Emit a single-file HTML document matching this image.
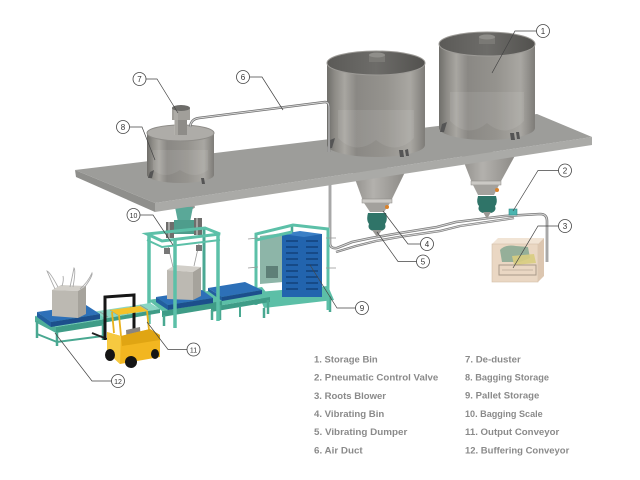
<!DOCTYPE html>
<html><head><meta charset="utf-8"><style>
html,body{margin:0;padding:0;background:#fff;}
svg{display:block;}
.t{font-family:"Liberation Sans",sans-serif;font-weight:bold;font-size:9.5px;fill:#8a8a8a;}
.n{font-family:"Liberation Sans",sans-serif;font-size:8px;fill:#333;text-anchor:middle;}
.c{fill:#fff;stroke:#444;stroke-width:0.8;}
.l{fill:none;stroke:#444;stroke-width:0.7;}
</style></head><body>
<svg width="640" height="480" viewBox="0 0 640 480" xmlns="http://www.w3.org/2000/svg">
<defs>
<linearGradient id="silo" x1="0" x2="1" y1="0" y2="0">
 <stop offset="0" stop-color="#6f6e6a"/>
 <stop offset="0.08" stop-color="#8d8b86"/>
 <stop offset="0.18" stop-color="#a8a6a1"/>
 <stop offset="0.3" stop-color="#8a8884"/>
 <stop offset="0.6" stop-color="#95938e"/>
 <stop offset="0.85" stop-color="#a9a7a2"/>
 <stop offset="1" stop-color="#7e7c78"/>
</linearGradient>
<linearGradient id="lid" x1="0" x2="1" y1="0" y2="0">
 <stop offset="0" stop-color="#5b5a57"/>
 <stop offset="0.5" stop-color="#6d6c69"/>
 <stop offset="1" stop-color="#52514e"/>
</linearGradient>
<linearGradient id="cone" x1="0" x2="1" y1="0" y2="0">
 <stop offset="0" stop-color="#8f8d89"/>
 <stop offset="0.4" stop-color="#b3b1ad"/>
 <stop offset="1" stop-color="#8a8884"/>
</linearGradient>
</defs>

<!-- lower pipes -->
<path d="M330,180 L330,243 Q330,249 337,248 L352,242 L371,238 L400,233 L437,227 L456,222 L505,216 L540,214 Q547,214 547,221 L547,262" fill="none" stroke="#7a7a7a" stroke-width="2.6"/>
<path d="M330,180 L330,243 Q330,249 337,248 L352,242 L371,238 L400,233 L437,227 L456,222 L505,216 L540,214 Q547,214 547,221 L547,262" fill="none" stroke="#d6d6d6" stroke-width="1"/>
<path d="M336,252 L356,246 L376,241 L405,236 L440,231 L460,226 L508,219 L514,218" fill="none" stroke="#7a7a7a" stroke-width="2.4"/>
<path d="M336,252 L356,246 L376,241 L405,236 L440,231 L460,226 L508,219 L514,218" fill="none" stroke="#d6d6d6" stroke-width="0.9"/>

<!-- blower -->
<polygon points="492,244 498,238 544,238 538,244" fill="#f1e4d5"/>
<rect x="492" y="244" width="46" height="38" fill="#ead7c3" stroke="#d2bea9" stroke-width="0.6"/>
<polygon points="538,244 544,238 544,276 538,282" fill="#dcc6b0"/>
<path d="M500,250 Q505,244 516,246 L528,247 L530,258 L520,262 L502,262 Z" fill="#86a892" opacity="0.85"/>
<path d="M512,256 L534,254 L536,263 L514,265 Z" fill="#d8cd80" opacity="0.9"/>
<rect x="499" y="265" width="37" height="10" fill="none" stroke="#a89888" stroke-width="1"/>
<line x1="502" y1="270" x2="533" y2="270" stroke="#b8a898" stroke-width="0.8"/>
<!-- valve 2 -->
<rect x="509" y="209" width="8" height="6" fill="#4bb5b0" stroke="#2d8b86" stroke-width="0.6"/>

<!-- cone A -->
<path d="M351,168 L407,168 L391,201 L363,201 Z" fill="url(#cone)"/>
<rect x="362" y="199" width="30" height="4" fill="#cbc9c5" stroke="#8a8884" stroke-width="0.5"/>
<path d="M364,203 L390,203 L384,212 L370,212 Z" fill="#a3a19d"/>
<path d="M368,213 L386,213 Q388,220 385,224 Q387,229 381,231 L373,231 Q367,229 369,224 Q366,220 368,213 Z" fill="#2f7468"/>
<path d="M372,230 L382,230 L377,237 Z" fill="#9a9894"/>
<circle cx="387" cy="207" r="2" fill="#d9822b"/>
<!-- cone B -->
<path d="M460,152 L517,152 L500,183 L472,183 Z" fill="url(#cone)"/>
<rect x="471" y="181" width="30" height="4" fill="#cbc9c5" stroke="#8a8884" stroke-width="0.5"/>
<path d="M473,185 L499,185 L494,195 L478,195 Z" fill="#a3a19d"/>
<path d="M478,196 L496,196 Q498,203 495,206 Q497,211 491,213 L483,213 Q477,211 479,206 Q476,203 478,196 Z" fill="#2f7468"/>
<path d="M483,212 L491,212 L487,219 Z" fill="#9a9894"/>
<circle cx="497" cy="190" r="2" fill="#d9822b"/>

<!-- scale chute (below platform) -->
<ellipse cx="184" cy="207" rx="11" ry="3" fill="#9a9a96"/>
<polygon points="175,207 193,207 190,222 178,222" fill="#5aa898"/>
<rect x="174" y="220" width="21" height="14" fill="#4e9d8c"/>
<rect x="166" y="222" width="8" height="16" fill="#6e6e6c"/>
<rect x="168" y="222" width="2" height="16" fill="#a5a5a3"/>
<rect x="194" y="218" width="8" height="17" fill="#6e6e6c"/>
<rect x="196" y="218" width="2" height="17" fill="#a5a5a3"/>

<!-- platform -->
<polygon points="75,170 155,203 155,212 76,177" fill="#8f8f8c"/>
<polygon points="155,203 592,137 592,145 155,212" fill="#aaaaa7"/>
<polygon points="75,170 537,114 592,137 155,203" fill="#9d9d9a"/>

<!-- silo A -->
<path d="M327,63 L327,145 A49,12 0 0 0 425,145 L425,63 Z" fill="url(#silo)"/>
<path d="M338,110 L338,138 Q356,156 376,140 Q396,156 414,138 L414,110 Z" fill="#ffffff" opacity="0.08"/>
<ellipse cx="376" cy="63" rx="49" ry="12" fill="url(#lid)" stroke="#9d9b97" stroke-width="1"/>
<rect x="369" y="55" width="16" height="7" fill="#7a7975"/>
<ellipse cx="377" cy="55" rx="8" ry="2.5" fill="#8f8e8a"/>
<polygon points="330,140 335,138 332,148 328,148" fill="#555"/>
<polygon points="399,150 403,150 404,157 400,157" fill="#555"/>
<polygon points="405,150 408,149 409,156 406,156" fill="#555"/>
<!-- silo B -->
<path d="M439,44 L439,128 A48,12 0 0 0 535,128 L535,44 Z" fill="url(#silo)"/>
<path d="M450,92 L450,121 Q468,139 487,123 Q506,139 524,121 L524,92 Z" fill="#ffffff" opacity="0.08"/>
<ellipse cx="487" cy="44" rx="48" ry="12" fill="url(#lid)" stroke="#9d9b97" stroke-width="1"/>
<rect x="479" y="37" width="16" height="7" fill="#7a7975"/>
<ellipse cx="487" cy="37" rx="8" ry="2.5" fill="#8f8e8a"/>
<polygon points="442,124 447,122 444,132 440,132" fill="#555"/>
<polygon points="510,133 514,133 515,140 511,140" fill="#555"/>
<polygon points="516,132 519,132 520,139 517,139" fill="#555"/>

<!-- bin 8 -->
<path d="M147,133 L147,175 A33.5,8 0 0 0 214,175 L214,133 Z" fill="url(#silo)"/>
<path d="M153,150 L153,170 Q165,180 180,170 Q195,180 208,170 L208,150 Z" fill="#ffffff" opacity="0.08"/>
<ellipse cx="180.5" cy="133" rx="33.5" ry="8" fill="#aeaca8" stroke="#8e8c88" stroke-width="1"/>
<polygon points="150,172 154,170 152,178 148,178" fill="#555"/>
<polygon points="201,178 204,178 205,184 202,184" fill="#555"/>
<!-- de-duster -->
<rect x="175" y="118" width="12" height="17" fill="#8e8c88"/>
<rect x="172" y="108" width="18" height="12" fill="#a19f9a"/>
<rect x="174" y="108" width="4" height="27" fill="#b8b6b1" opacity="0.6"/>
<ellipse cx="181" cy="108" rx="9" ry="3" fill="#6d6c69"/>
<!-- upper air duct 6 -->
<path d="M190,127 Q191,119 199,118 L325,102 Q329,102 329,107 L329,152" fill="none" stroke="#707070" stroke-width="2.4"/>
<path d="M190,127 Q191,119 199,118 L325,102 Q329,102 329,107 L329,152" fill="none" stroke="#d8d8d8" stroke-width="0.9"/>

<!-- ===== green machinery ===== -->
<!-- pallet storage 9 -->
<polygon points="258,292 328,286 334,300 264,308" fill="#5cbfa7"/>
<line x1="264" y1="308" x2="264" y2="318" stroke="#49a891" stroke-width="2.5"/>
<line x1="330" y1="296" x2="330" y2="312" stroke="#49a891" stroke-width="2.5"/>
<line x1="292" y1="225" x2="292" y2="292" stroke="#4aa893" stroke-width="2.5"/>
<polygon points="260,236 283,233 283,282 260,284" fill="#8db5a8"/>
<rect x="266" y="266" width="12" height="12" fill="#5e7f77"/>
<rect x="282" y="234" width="40" height="63" fill="#2264ae"/>
<polygon points="282,234 300,231 322,234 304,237" fill="#3a7fc6"/>
<g stroke="#123f77" stroke-width="1.4">
<line x1="286" y1="241" x2="298" y2="241"/><line x1="306" y1="241" x2="318" y2="241"/>
<line x1="286" y1="247" x2="298" y2="247"/><line x1="306" y1="247" x2="318" y2="247"/>
<line x1="286" y1="253" x2="298" y2="253"/><line x1="306" y1="253" x2="318" y2="253"/>
<line x1="286" y1="259" x2="298" y2="259"/><line x1="306" y1="259" x2="318" y2="259"/>
<line x1="286" y1="265" x2="298" y2="265"/><line x1="306" y1="265" x2="318" y2="265"/>
<line x1="286" y1="271" x2="298" y2="271"/><line x1="306" y1="271" x2="318" y2="271"/>
<line x1="286" y1="277" x2="298" y2="277"/><line x1="306" y1="277" x2="318" y2="277"/>
<line x1="286" y1="283" x2="298" y2="283"/><line x1="306" y1="283" x2="318" y2="283"/>
<line x1="286" y1="289" x2="298" y2="289"/><line x1="306" y1="289" x2="318" y2="289"/>
</g>
<g stroke="#5cc0a8" stroke-width="3" fill="none">
<polyline points="256,305 256,234 293,225 328,229 328,310"/>
<line x1="256" y1="240" x2="292" y2="232"/>
</g>
<g stroke="#999" stroke-width="0.8">
<line x1="248" y1="239" x2="258" y2="238"/><line x1="248" y1="268" x2="258" y2="267"/>
<line x1="326" y1="268" x2="336" y2="268"/><line x1="326" y1="238" x2="336" y2="238"/>
</g>

<!-- right conveyor with pallet -->
<polygon points="203,296 262,287 270,297 211,307" fill="#5cbfa7"/>
<polygon points="211,307 270,297 270,302 211,312" fill="#3f9c87"/>
<line x1="212" y1="310" x2="212" y2="320" stroke="#49a891" stroke-width="2.5"/>
<line x1="268" y1="300" x2="268" y2="314" stroke="#49a891" stroke-width="2.5"/>
<line x1="240" y1="306" x2="240" y2="317" stroke="#49a891" stroke-width="2"/>
<polygon points="208,288 245,282 262,290 222,297" fill="#2d70b8"/>
<polygon points="222,297 262,290 262,294 222,301" fill="#1c4f8c"/>
<polygon points="208,288 222,297 222,301 208,292" fill="#225e9f"/>

<!-- scale back posts & conveyor under scale -->
<line x1="204" y1="228" x2="204" y2="300" stroke="#4aa893" stroke-width="3"/>
<polygon points="148,300 208,291 222,301 162,311" fill="#5cbfa7"/>
<polygon points="162,311 222,301 222,307 162,317" fill="#3f9c87"/>
<line x1="164" y1="315" x2="164" y2="326" stroke="#49a891" stroke-width="2.5"/>
<line x1="220" y1="305" x2="220" y2="320" stroke="#49a891" stroke-width="2.5"/>
<!-- pallet under scale -->
<polygon points="156,297 202,290 213,298 168,305" fill="#2d70b8"/>
<polygon points="168,305 213,298 213,303 168,310" fill="#1c4f8c"/>
<polygon points="156,297 168,305 168,310 156,302" fill="#225e9f"/>
<!-- bag under scale -->
<polygon points="167,270 175,265 201,267 193,272" fill="#d2cfc9"/>
<polygon points="167,270 193,272 193,300 167,299" fill="#bcb9b2"/>
<polygon points="193,272 201,267 201,296 193,300" fill="#a6a39c"/>
<line x1="168" y1="246" x2="173" y2="267" stroke="#999" stroke-width="0.8"/>
<line x1="199" y1="244" x2="194" y2="266" stroke="#999" stroke-width="0.8"/>
<!-- scale frame -->
<g stroke="#5cc0a8" fill="none">
<polygon points="147,234 205,228 220,234 162,241" stroke-width="3"/>
<polyline points="147,240 162,247 220,240" stroke-width="2"/>
<line x1="149" y1="234" x2="149" y2="324" stroke-width="3.5"/>
<line x1="175" y1="240" x2="175" y2="328" stroke-width="3.5"/>
<line x1="218" y1="233" x2="218" y2="321" stroke-width="3.5"/>
</g>
<rect x="164" y="248" width="6" height="6" fill="#777"/>
<rect x="196" y="245" width="6" height="6" fill="#777"/>

<!-- middle roller conveyor 11 -->
<polygon points="92,312 150,303 160,309 102,319" fill="#8ad6c4"/>
<polygon points="102,319 160,309 160,313 102,323" fill="#3f9c87"/>
<g stroke="#8c9a96" stroke-width="0.8">
<line x1="100" y1="312" x2="108" y2="317"/><line x1="110" y1="310" x2="118" y2="315"/>
<line x1="120" y1="309" x2="128" y2="314"/><line x1="130" y1="307" x2="138" y2="312"/>
<line x1="140" y1="305" x2="148" y2="310"/>
</g>

<!-- left buffering conveyor 12 -->
<polygon points="35,316 90,308 106,319 56,327" fill="#6ccbb5"/>
<polygon points="56,327 106,319 106,325 56,333" fill="#3f9c87"/>
<polygon points="35,316 56,327 56,333 35,322" fill="#4fae98"/>
<g stroke="#49a891" stroke-width="2.5">
<line x1="37" y1="321" x2="37" y2="338"/><line x1="57" y1="332" x2="57" y2="346"/>
<line x1="103" y1="324" x2="103" y2="340"/>
</g>
<polyline points="37,334 57,342 103,336" fill="none" stroke="#49a891" stroke-width="2"/>
<!-- left pallet -->
<polygon points="37,312 86,305 100,314 51,322" fill="#2d70b8"/>
<polygon points="51,322 100,314 100,319 51,327" fill="#1c4f8c"/>
<polygon points="37,312 51,322 51,327 37,317" fill="#225e9f"/>
<!-- left bag -->
<polygon points="52,290 61,285 86,286 78,291" fill="#d2cfc9"/>
<polygon points="52,290 78,291 78,318 52,316" fill="#bcb9b2"/>
<polygon points="78,291 86,286 86,314 78,318" fill="#a6a39c"/>
<g fill="none" stroke="#a9a9a9" stroke-width="0.9">
<path d="M55,289 Q50,278 47,271 Q50,272 58,287"/>
<path d="M70,287 Q72,278 74,268 Q76,270 73,287"/>
<path d="M80,289 Q88,282 92,273 Q93,276 84,288"/>
<path d="M62,286 Q64,280 63,276"/>
</g>

<!-- forklift -->
<line x1="92" y1="333" x2="107" y2="339" stroke="#222" stroke-width="2"/>
<g stroke="#161616" stroke-width="3" fill="none">
<polyline points="105,340 105,297 134,295 134,334"/>
</g>
<polygon points="110,310 140,306 148,311 118,315" fill="#f4c22a"/>
<g stroke="#e9b11c" stroke-width="1.8">
<line x1="112" y1="312" x2="114" y2="333"/><line x1="119" y1="315" x2="121" y2="336"/>
<line x1="147" y1="311" x2="149" y2="330"/>
</g>
<polygon points="126,330 140,327 141,342 127,345" fill="#8a8580"/>
<polygon points="107,332 121,336 150,329 160,335 160,357 120,364 107,352" fill="#f2b620"/>
<polygon points="107,332 121,336 120,364 107,352" fill="#f6c940"/>
<polygon points="121,336 150,329 160,335 160,340 122,346" fill="#e0a513"/>
<ellipse cx="110" cy="355" rx="5" ry="6" fill="#151515"/>
<ellipse cx="131" cy="362" rx="6" ry="6" fill="#151515"/>
<ellipse cx="155" cy="354" rx="4" ry="5" fill="#151515"/>

<!-- callouts -->
<g>
<path class="l" d="M536.5,31 L515,31 L492,73"/><circle class="c" cx="543" cy="31" r="6.5"/><text class="n" x="543" y="34">1</text>
<path class="l" d="M558.5,170.5 L538,170.5 L513,211"/><circle class="c" cx="565" cy="170.5" r="6.5"/><text class="n" x="565" y="173.5">2</text>
<path class="l" d="M558.5,226 L538,226 L513,268"/><circle class="c" cx="565" cy="226" r="6.5"/><text class="n" x="565" y="229">3</text>
<path class="l" d="M420.5,244 L408,244 L383,211"/><circle class="c" cx="427" cy="244" r="6.5"/><text class="n" x="427" y="247">4</text>
<path class="l" d="M416.5,261.5 L398,261.5 L377,232"/><circle class="c" cx="423" cy="261.5" r="6.5"/><text class="n" x="423" y="264.5">5</text>
<path class="l" d="M249.5,77 L262,77 L283,110"/><circle class="c" cx="243" cy="77" r="6.5"/><text class="n" x="243" y="80">6</text>
<path class="l" d="M146,79 L157,79 L178,113"/><circle class="c" cx="139.5" cy="79" r="6.5"/><text class="n" x="139.5" y="82">7</text>
<path class="l" d="M129.5,127 L142,127 L155,160"/><circle class="c" cx="123" cy="127" r="6.5"/><text class="n" x="123" y="130">8</text>
<path class="l" d="M355.5,308 L337,308 L310,265"/><circle class="c" cx="362" cy="308" r="6.5"/><text class="n" x="362" y="311">9</text>
<path class="l" d="M140,215 L153,215 L173,245"/><circle class="c" cx="133.5" cy="215" r="6.5"/><text class="n" x="133.5" y="218" style="font-size:7px">10</text>
<path class="l" d="M187,349.5 L168,349.5 L147,322"/><circle class="c" cx="193.5" cy="349.5" r="6.5"/><text class="n" x="193.5" y="352.5" style="font-size:7px">11</text>
<path class="l" d="M111.5,381 L92,381 L55,333"/><circle class="c" cx="118" cy="381" r="6.5"/><text class="n" x="118" y="384" style="font-size:7px">12</text>
</g>

<!-- legend -->
<text class="t" x="314" y="362.4" textLength="63.7" lengthAdjust="spacingAndGlyphs">1. Storage Bin</text>
<text class="t" x="314" y="380.6" textLength="124.3" lengthAdjust="spacingAndGlyphs">2. Pneumatic Control Valve</text>
<text class="t" x="314" y="398.8" textLength="72" lengthAdjust="spacingAndGlyphs">3. Roots Blower</text>
<text class="t" x="314" y="417" textLength="70.3" lengthAdjust="spacingAndGlyphs">4. Vibrating Bin</text>
<text class="t" x="314" y="435.2" textLength="93.3" lengthAdjust="spacingAndGlyphs">5. Vibrating Dumper</text>
<text class="t" x="314" y="453.4" textLength="48.7" lengthAdjust="spacingAndGlyphs">6. Air Duct</text>
<text class="t" x="465" y="362.4" textLength="55.7" lengthAdjust="spacingAndGlyphs">7. De-duster</text>
<text class="t" x="465" y="380.3" textLength="84" lengthAdjust="spacingAndGlyphs">8. Bagging Storage</text>
<text class="t" x="465" y="398.5" textLength="74.3" lengthAdjust="spacingAndGlyphs">9. Pallet Storage</text>
<text class="t" x="465" y="416.8" textLength="77.7" lengthAdjust="spacingAndGlyphs">10. Bagging Scale</text>
<text class="t" x="465" y="435.1" textLength="94.3" lengthAdjust="spacingAndGlyphs">11. Output Conveyor</text>
<text class="t" x="465" y="453.4" textLength="104.3" lengthAdjust="spacingAndGlyphs">12. Buffering Conveyor</text>
</svg>
</body></html>
